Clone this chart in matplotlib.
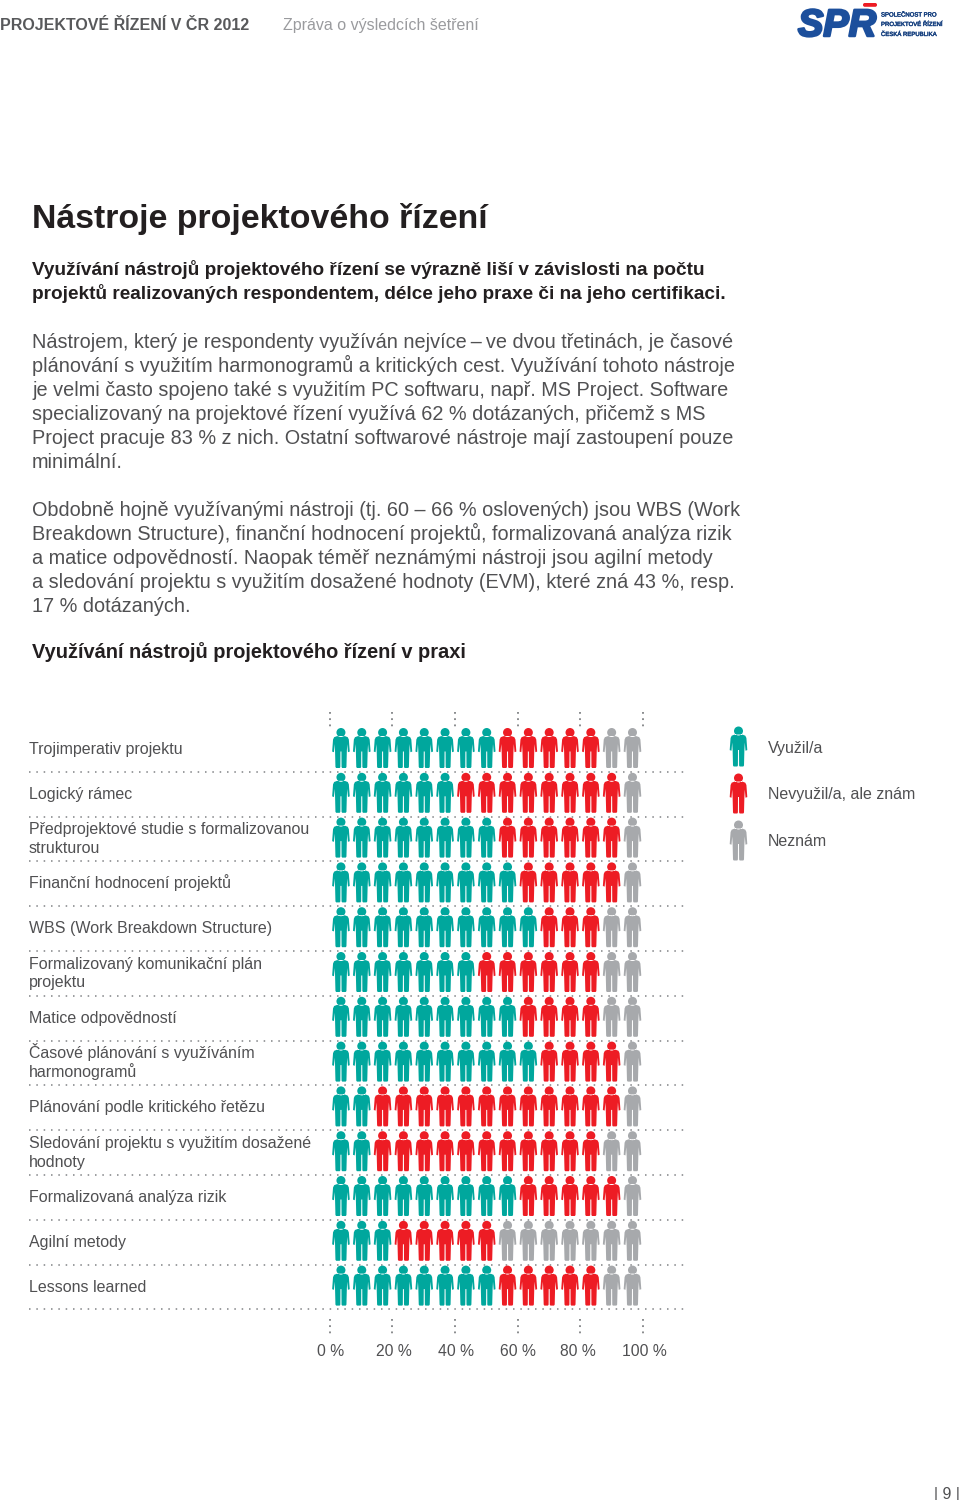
import matplotlib
matplotlib.use('Agg')
import matplotlib.pyplot as plt
import matplotlib.patheffects as pe
from matplotlib.path import Path
from matplotlib.patches import FancyBboxPatch
from matplotlib.transforms import ScaledTranslation
import numpy as np

plt.rcParams['font.family'] = ['Liberation Sans', 'DejaVu Sans']

# ---------- data ----------
categories = [
    'Trojimperativ projektu', 'Logický rámec',
    'Předprojektové studie s formalizovanou\nstrukturou',
    'Finanční hodnocení projektů', 'WBS (Work Breakdown Structure)',
    'Formalizovaný komunikační plán\nprojektu', 'Matice odpovědností',
    'Časové plánování s využíváním\nharmonogramů',
    'Plánování podle kritického řetězu',
    'Sledování projektu s využitím dosažené\nhodnoty',
    'Formalizovaná analýza rizik', 'Agilní metody', 'Lessons learned',
]
used    = [8, 6, 8, 9, 10, 7, 9, 10, 2, 2, 9, 3, 8]
known   = [5, 8, 6, 5, 3, 6, 4, 4, 12, 11, 5, 5, 5]
unknown = [2, 1, 1, 1, 2, 2, 2, 1, 1, 2, 1, 7, 2]
percent_ticks = [0, 20, 40, 60, 80, 100]
percent_labels = ['0 %', '20 %', '40 %', '60 %', '80 %', '100 %']
legend_labels = ['Využil/a', 'Nevyužil/a, ale znám', 'Neznám']

TEAL, RED, GREY = '#00a79d', '#ed1c24', '#a7a9ac'
TXT = '#505052'
DARK = '#231f20'
DOT = '#808285'
BLUE = '#1c4f9c'

W, H = 960, 1500
fig = plt.figure(figsize=(9.6, 15), dpi=100, facecolor='white')
page = fig.add_axes([0, 0, 1, 1])
page.set_xlim(0, W); page.set_ylim(H, 0); page.axis('off')
def fs(px): return px * 0.72

# ---------- person marker ----------
half = [(0, 12.0), (4.2, 11.8), (6.8, 10.8), (7.9, 8.5), (8.8, -3.6), (7.0, -4.2),
        (6.3, 4.0), (5.9, -3.0), (5.5, -19.0), (4.8, -20), (1.2, -20), (0.6, -19), (0.5, -3.5)]
outline = half + [(-x, y) for x, y in reversed(half[1:])] + [half[0]]
codes = [Path.MOVETO] + [Path.LINETO] * (len(outline) - 2) + [Path.CLOSEPOLY]
body = Path(outline, codes)
head = Path.circle((0, 15.5), 4.5)
person = Path.make_compound_path(head, body)
S = (40 * 0.72) ** 2

# ---------- header / text ----------
page.text(0, 30, 'PROJEKTOVÉ ŘÍZENÍ V ČR 2012', fontsize=fs(16.05), fontweight='bold', color='#58595b', va='baseline')
page.text(283, 30, 'Zpráva o výsledcích šetření', fontsize=fs(16), color='#9a9b9e', va='baseline')

page.text(32, 228, 'Nástroje projektového řízení', fontsize=fs(33.9), fontweight='bold', color=DARK, va='baseline')
for y, s in [(275, 'Využívání nástrojů projektového řízení se výrazně liší v závislosti na počtu'),
             (299, 'projektů realizovaných respondentem, délce jeho praxe či na jeho certifikaci.')]:
    page.text(32, y, s, fontsize=fs(19.05), fontweight='bold', color=DARK, va='baseline')
para = [(348, 'Nástrojem, který je respondenty využíván nejvíce\u2009–\u2009ve dvou třetinách, je časové'),
        (372, 'plánování s využitím harmonogramů a kritických cest. Využívání tohoto nástroje'),
        (396, 'je velmi často spojeno také s využitím PC softwaru, např. MS Project. Software'),
        (420, 'specializovaný na projektové řízení využívá 62 % dotázaných, přičemž s MS'),
        (444, 'Project pracuje 83 % z nich. Ostatní softwarové nástroje mají zastoupení pouze'),
        (468, 'minimální.'),
        (516, 'Obdobně hojně využívanými nástroji (tj. 60 – 66 % oslovených) jsou WBS (Work'),
        (540, 'Breakdown Structure), finanční hodnocení projektů, formalizovaná analýza rizik'),
        (564, 'a matice odpovědností. Naopak téměř neznámými nástroji jsou agilní metody'),
        (588, 'a sledování projektu s využitím dosažené hodnoty (EVM), které zná 43 %, resp.'),
        (612, '17 % dotázaných.')]
for y, s in para:
    page.text(32, y, s, fontsize=fs(19.9), color=TXT, va='baseline')
page.text(32, 658, 'Využívání nástrojů projektového řízení v praxi', fontsize=fs(20), fontweight='bold', color=DARK, va='baseline')

# ---------- chart axes: x in percent, y in rows ----------
X0, X1 = 329.7, 643.0
Y0, YSTEP = 748.0, 44.8
T, B = 700.0, 1340.0
ax = fig.add_axes([X0 / W, 1 - B / H, (X1 - X0) / W, (B - T) / H])
ax.set_xlim(0, 100)
ax.set_ylim((B - Y0) / YSTEP, (T - Y0) / YSTEP)
ax.patch.set_alpha(0)
for sp in ax.spines.values():
    sp.set_visible(False)
ax.set_yticks([])
ax.set_xticks(percent_ticks, percent_labels)
ax.tick_params(axis='x', length=0, pad=2.8, labelsize=fs(15.7), labelcolor=TXT)
for lab, dx in zip(ax.get_xticklabels(), [1, 2, 1, 0, -2, 1]):
    lab.set_transform(lab.get_transform() + ScaledTranslation(dx / 100, 0, fig.dpi_scale_trans))

n = 15
for r in range(len(categories)):
    colors = [TEAL] * used[r] + [RED] * known[r] + [GREY] * unknown[r]
    ax.scatter((np.arange(n) + 0.54) * 100 / n * 0.997, np.full(n, r), marker=person, s=S,
               c=colors, linewidths=0, clip_on=False, zorder=3)
    lines = categories[r].split('\n')
    cy = Y0 + YSTEP * r + 0.5
    offs = [0] if len(lines) == 1 else [-9.5, 9.5]
    for line, o in zip(lines, offs):
        page.text(29, cy + o + 5.5, line, fontsize=fs(16), color=TXT, va='baseline')

pct_per_px = 100 / (X1 - X0)
ax.hlines(np.arange(len(categories)) + 0.53, (29 - X0) * pct_per_px, (689 - X0) * pct_per_px,
          colors=DOT, linewidth=1.1, linestyles=[(0, (1.0, 3.8))], clip_on=False, zorder=1)
ypx = lambda p: (p - Y0) / YSTEP
for t in percent_ticks:
    for a, b in [(712.5, 727), (1319, 1334)]:
        ax.vlines(t, ypx(a), ypx(b), colors=DOT, linewidth=1.3, linestyles=[(0, (1.0, 2.45))], clip_on=False)

# ---------- legend ----------
for c, y, lab in zip([TEAL, RED, GREY], [746, 792.7, 839.5], legend_labels):
    page.scatter([737.5], [y], marker=person, s=S, c=c, linewidths=0)
    page.text(768, y + 6.5, lab, fontsize=fs(16), color=TXT, va='baseline')

# ---------- logo ----------
page.add_patch(FancyBboxPatch((863, 3), 14, 3.8, boxstyle='round,pad=0,rounding_size=1.8', fc=RED, ec='none'))
page.text(798, 36, 'SPR', fontsize=fs(38), fontweight='bold', fontstyle='italic', color=BLUE,
          va='baseline', path_effects=[pe.withStroke(linewidth=1.8, foreground=BLUE)])
for y, s in [(16.5, 'SPOLEČNOST PRO'), (26, 'PROJEKTOVÉ ŘÍZENÍ'), (36, 'ČESKÁ REPUBLIKA')]:
    page.text(881, y, s, fontsize=fs(6.0), color='#16407f', va='baseline',
              path_effects=[pe.withStroke(linewidth=0.3, foreground='#16407f')])

# ---------- footer ----------
page.text(947, 1499, '| 9 |', fontsize=fs(16), color=TXT, va='baseline', ha='center')

fig.savefig('out.png', dpi=100, facecolor='white')
